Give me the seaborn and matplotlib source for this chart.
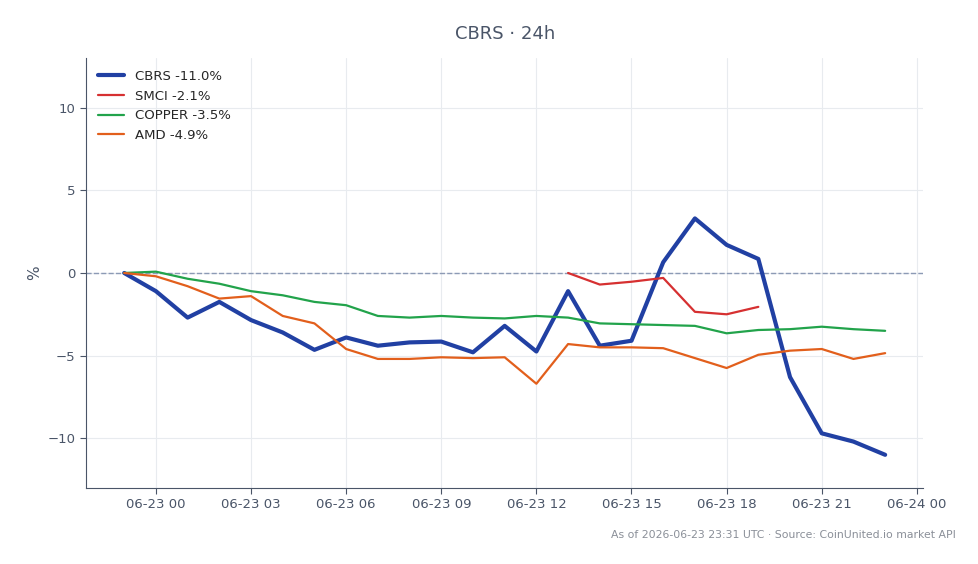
import pandas as pd
import numpy as np
import seaborn as sns
import matplotlib.pyplot as plt
import matplotlib.dates as mdates

times = pd.date_range("2026-06-22 23:00", "2026-06-23 23:00", freq="h")

cbrs = [0.0, -1.1, -2.7, -1.75, -2.85, -3.6, -4.65, -3.9, -4.4, -4.2, -4.15, -4.8, -3.2,
        -4.75, -1.1, -4.4, -4.1, 0.65, 3.3, 1.7, 0.85, -6.3, -9.7, -10.2, -11.0]
smci = [np.nan] * 14 + [0.0, -0.7, -0.53, -0.3, -2.35, -2.5, -2.05] + [np.nan] * 4
copper = [0.0, 0.08, -0.35, -0.65, -1.1, -1.35, -1.75, -1.95, -2.6, -2.7, -2.6, -2.7, -2.75,
          -2.6, -2.7, -3.05, -3.1, -3.15, -3.2, -3.65, -3.45, -3.4, -3.25, -3.4, -3.5]
amd = [0.0, -0.2, -0.8, -1.55, -1.4, -2.6, -3.05, -4.6, -5.2, -5.2, -5.1, -5.15, -5.1,
       -6.7, -4.3, -4.5, -4.5, -4.55, -5.15, -5.75, -4.95, -4.7, -4.6, -5.2, -4.85]

series = {
    "CBRS -11.0%": (cbrs, "#2140a3", 3.0),
    "SMCI -2.1%": (smci, "#d63031", 1.6),
    "COPPER -3.5%": (copper, "#22a34b", 1.6),
    "AMD -4.9%": (amd, "#e25f1c", 1.6),
}

sns.set_style("white")
fig = plt.figure(figsize=(9.79, 5.64), dpi=100)
ax = fig.add_axes([0.088, 0.135, 0.855, 0.762])

for name, (vals, color, lw) in series.items():
    df = pd.DataFrame({"time": times, "pct": vals})
    sns.lineplot(data=df, x="time", y="pct", ax=ax, color=color, linewidth=lw, label=name)

# zero reference line, above the grid but under the series
ax.axhline(0, color="#8c9ab5", linestyle="--", linewidth=1, zorder=1.5)
ax.set_ylim(-13, 13)
ax.set_yticks([-10, -5, 0, 5, 10])
ax.xaxis.set_major_locator(mdates.HourLocator(byhour=[0, 3, 6, 9, 12, 15, 18, 21]))
ax.xaxis.set_major_formatter(mdates.DateFormatter("%m-%d %H"))
ax.grid(True, color="#e8ebef", linewidth=0.8)
ax.set_axisbelow(True)

ax.set_xlabel("")
ax.set_ylabel("%", color="#4a5568", fontsize=11)
ax.tick_params(colors="#4a5568", labelsize=9.5, length=4, bottom=True, left=True)
for s in ["top", "right"]:
    ax.spines[s].set_visible(False)
for s in ["left", "bottom"]:
    ax.spines[s].set_color("#4a5568")

ax.legend(loc="upper left", frameon=False, fontsize=9.5)
ax.set_title("CBRS · 24h", color="#4a5568", fontsize=13, pad=14)
fig.text(0.976, 0.052, "As of 2026-06-23 23:31 UTC · Source: CoinUnited.io market API",
         ha="right", va="center", fontsize=7.85, color="#8a8f98")

fig.savefig("out.png", dpi=100)
